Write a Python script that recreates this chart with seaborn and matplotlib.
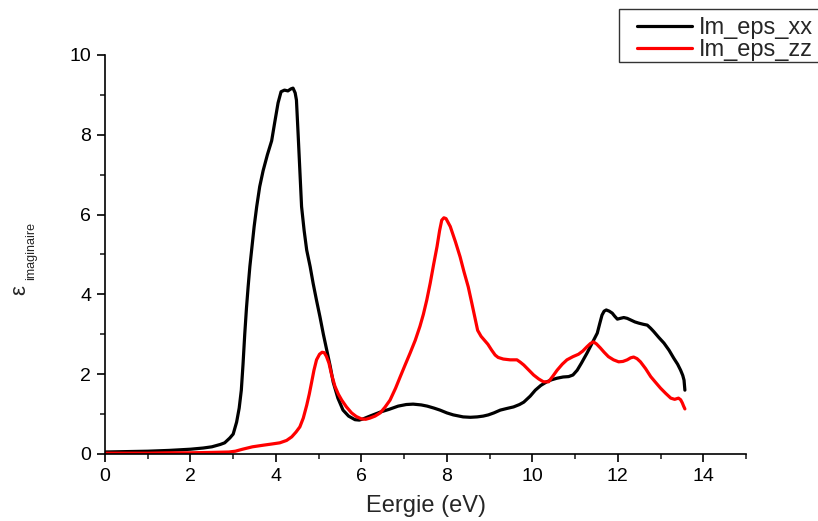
import numpy as np
import pandas as pd
import matplotlib
matplotlib.use("Agg")
import matplotlib.pyplot as plt
from matplotlib.lines import Line2D
from matplotlib.patches import Rectangle
from matplotlib.ticker import MultipleLocator
import seaborn as sns

# ---- data ----
energy_xx = [0, 0.5, 1.0, 1.5, 2.0, 2.3, 2.5, 2.7, 2.8, 2.92,
             3.0, 3.08, 3.14, 3.19, 3.23, 3.27, 3.31, 3.35, 3.39, 3.43,
             3.49, 3.55, 3.62, 3.7, 3.8, 3.9, 3.97, 4.05, 4.12, 4.2,
             4.28, 4.35, 4.4, 4.45, 4.48, 4.52, 4.56, 4.6, 4.66, 4.72,
             4.8, 4.87, 4.95, 5.03, 5.11, 5.19, 5.27, 5.34, 5.45, 5.57,
             5.7, 5.85, 5.95, 6.04, 6.2, 6.44, 6.65, 6.86, 7.05, 7.21,
             7.4, 7.54, 7.7, 7.84, 8.0, 8.15, 8.38, 8.55, 8.71, 8.85,
             8.97, 9.1, 9.25, 9.4, 9.56, 9.7, 9.8, 9.95, 10.07, 10.2,
             10.34, 10.45, 10.58, 10.72, 10.85, 10.95, 11.05, 11.15, 11.28, 11.4,
             11.52, 11.58, 11.63, 11.68, 11.73, 11.8, 11.87, 11.93, 11.99, 12.06,
             12.14, 12.22, 12.3, 12.4, 12.49, 12.6, 12.69, 12.77, 12.84, 12.96,
             13.08, 13.2, 13.31, 13.4, 13.47, 13.52, 13.55, 13.57]
eps_xx = [0.05, 0.06, 0.07, 0.09, 0.12, 0.15, 0.18, 0.24, 0.28, 0.4,
          0.5, 0.8, 1.15, 1.6, 2.25, 3.0, 3.65, 4.2, 4.7, 5.1,
          5.7, 6.2, 6.7, 7.1, 7.5, 7.85, 8.3, 8.8, 9.08, 9.12,
          9.1, 9.15, 9.17, 9.05, 8.87, 8.0, 7.1, 6.2, 5.6, 5.11,
          4.7, 4.28, 3.85, 3.44, 3.0, 2.6, 2.2, 1.8, 1.4, 1.1,
          0.95, 0.86, 0.85, 0.88, 0.95, 1.05, 1.12, 1.2, 1.24, 1.25,
          1.23, 1.2, 1.15, 1.1, 1.03, 0.98, 0.93, 0.92, 0.93, 0.95,
          0.98, 1.03, 1.1, 1.14, 1.18, 1.24, 1.3, 1.45, 1.6, 1.72,
          1.81, 1.86, 1.9, 1.93, 1.94, 1.98, 2.1, 2.28, 2.53, 2.78,
          3.03, 3.28, 3.48, 3.58, 3.61, 3.58, 3.53, 3.45, 3.38, 3.4,
          3.42, 3.4, 3.36, 3.31, 3.28, 3.25, 3.23, 3.15, 3.07, 2.92,
          2.78, 2.6, 2.4, 2.25, 2.1, 1.97, 1.85, 1.6]

energy_zz = [0, 0.5, 1.0, 1.5, 2.0, 2.5, 2.9, 3.05, 3.22, 3.45,
             3.7, 3.9, 4.09, 4.25, 4.37, 4.47, 4.56, 4.64, 4.72, 4.78,
             4.83, 4.89, 4.95, 5.02, 5.08, 5.13, 5.18, 5.24, 5.3, 5.38,
             5.46, 5.54, 5.65, 5.77, 5.88, 6.0, 6.1, 6.2, 6.32, 6.44,
             6.55, 6.67, 6.8, 6.91, 7.03, 7.14, 7.26, 7.37, 7.45, 7.53,
             7.61, 7.69, 7.77, 7.83, 7.88, 7.93, 7.98, 8.03, 8.08, 8.2,
             8.31, 8.4, 8.5, 8.58, 8.66, 8.72, 8.8, 8.88, 8.96, 9.05,
             9.13, 9.2, 9.32, 9.48, 9.64, 9.72, 9.8, 9.92, 10.03, 10.15,
             10.26, 10.38, 10.48, 10.58, 10.7, 10.81, 10.95, 11.08, 11.18, 11.28,
             11.36, 11.43, 11.5, 11.59, 11.68, 11.78, 11.9, 12.02, 12.12, 12.22,
             12.3, 12.37, 12.45, 12.53, 12.65, 12.77, 12.88, 13.0, 13.12, 13.24,
             13.33, 13.42, 13.47, 13.51, 13.54, 13.57]
eps_zz = [0.02, 0.02, 0.02, 0.03, 0.03, 0.04, 0.05, 0.07, 0.12, 0.18,
          0.22, 0.25, 0.28, 0.34, 0.43, 0.55, 0.68, 0.9, 1.22, 1.5,
          1.77, 2.1, 2.36, 2.5, 2.55, 2.54, 2.45, 2.28, 2.0, 1.7,
          1.5, 1.35, 1.18, 1.03, 0.94, 0.88, 0.87, 0.9, 0.95, 1.03,
          1.17, 1.35, 1.65, 1.94, 2.25, 2.53, 2.85, 3.2, 3.5, 3.86,
          4.28, 4.75, 5.2, 5.6, 5.86, 5.92, 5.9, 5.8, 5.7, 5.32,
          4.94, 4.57, 4.19, 3.8, 3.4, 3.1, 2.95, 2.85, 2.75, 2.6,
          2.48, 2.42, 2.38, 2.36, 2.36, 2.3, 2.23, 2.1, 1.98, 1.88,
          1.81, 1.81, 1.95, 2.1, 2.25, 2.36, 2.44, 2.5, 2.58, 2.69,
          2.77, 2.81, 2.76, 2.66, 2.55, 2.44, 2.36, 2.31, 2.32, 2.36,
          2.41, 2.43, 2.39, 2.31, 2.14, 1.94, 1.8, 1.65, 1.52, 1.4,
          1.37, 1.4, 1.36, 1.28, 1.2, 1.13]

series_names = ["Im_eps_xx", "Im_eps_zz"]
series_colors = ["#000000", "#ff0000"]
x_ticks = [0, 2, 4, 6, 8, 10, 12, 14]
y_ticks = [0, 2, 4, 6, 8, 10]

df = pd.concat([
    pd.DataFrame({"E": energy_xx, "eps": eps_xx, "series": series_names[0]}),
    pd.DataFrame({"E": energy_zz, "eps": eps_zz, "series": series_names[1]}),
], ignore_index=True)

sns.set_style("ticks")
plt.rcParams["font.family"] = ["Liberation Sans", "DejaVu Sans"]

W, H = 818, 521
fig = plt.figure(figsize=(W / 100, H / 100), dpi=100)
ax = fig.add_axes([105 / W, 67 / H, 641 / W, 399 / H])

sns.lineplot(data=df, x="E", y="eps", hue="series",
             palette=dict(zip(series_names, series_colors)),
             sort=False, estimator=None, linewidth=2.3, ax=ax, legend=False)

ax.set_xlim(0, 15)
ax.set_ylim(0, 10)
ax.set_xticks(x_ticks)
ax.set_yticks(y_ticks)
ax.xaxis.set_minor_locator(MultipleLocator(1))
ax.yaxis.set_minor_locator(MultipleLocator(1))
for s in ["top", "right"]:
    ax.spines[s].set_visible(False)
for s in ["left", "bottom"]:
    ax.spines[s].set_linewidth(1.2)
    ax.spines[s].set_color("black")
ax.tick_params(which="major", direction="out", length=6, width=1.2,
               labelsize=14, pad=4, colors="black")
ax.tick_params(which="minor", direction="out", length=3.5, width=1.2)

ax.set_xlabel("Eergie (eV)", fontsize=17, labelpad=7)
ax.set_ylabel("")

fig.text(20 / W, 1 - 290 / H, "ε", rotation=90, fontsize=16,
         ha="center", va="center")
fig.text(31 / W, 1 - 251 / H, "imaginaire", rotation=90, fontsize=9,
         ha="center", va="center")

# legend frame (runs off the right edge of the figure as in the reference)
frame = Rectangle((619 / W, 1 - 62 / H), 230 / W, 53 / H,
                  transform=fig.transFigure, facecolor="white",
                  edgecolor="#333333", linewidth=1.0, zorder=5)
fig.patches.append(frame)

handles = [Line2D([], [], color=c, lw=2.3) for c in series_colors]
leg = fig.legend(handles, series_names, loc="upper left",
                 bbox_to_anchor=(637 / W, 1 - 17 / H), fontsize=17,
                 frameon=False, handlelength=2.33, handletextpad=0.3,
                 borderpad=0, labelspacing=0.0, borderaxespad=0)
leg.set_zorder(6)

fig.savefig("out.png", dpi=100)
